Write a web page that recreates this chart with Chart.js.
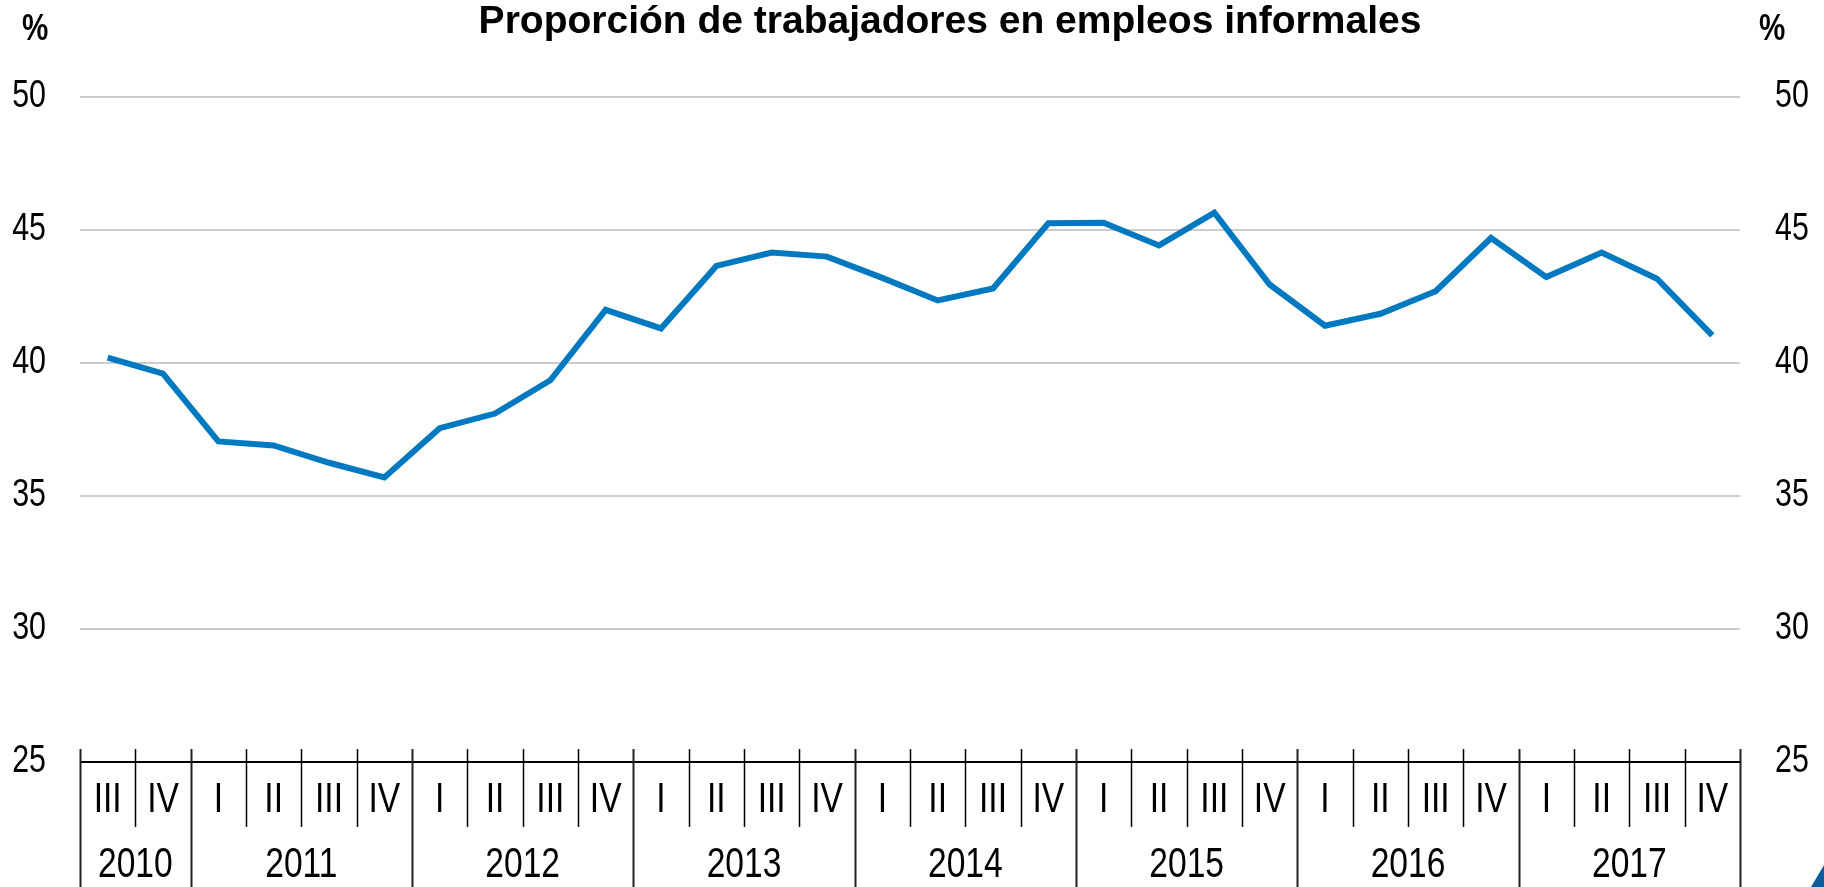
<!DOCTYPE html>
<html>
<head>
<meta charset="utf-8">
<script src="https://cdn.jsdelivr.net/npm/chart.js@4"></script>
<style>
  html, body { margin: 0; padding: 0; background: #fff; }
  #wrap { width: 1824px; height: 887px; position: relative; }
</style>
</head>
<body>
<div id="wrap"><canvas id="main_plot"></canvas></div>
<script>
// quarters from 2010 III to 2017 IV
const quarterLabels = ['III','IV',
  'I','II','III','IV', 'I','II','III','IV', 'I','II','III','IV',
  'I','II','III','IV', 'I','II','III','IV', 'I','II','III','IV',
  'I','II','III','IV'];
const yearLabels = ['2010','2011','2012','2013','2014','2015','2016','2017'];
const quartersPerYear = [2,4,4,4,4,4,4,4];
const informalShare = [40.2, 39.6,
  37.05, 36.9, 36.25, 35.7,
  37.55, 38.1, 39.35, 42.0,
  41.3, 43.65, 44.15, 44.0,
  43.2, 42.35, 42.8, 45.25,
  45.27, 44.42, 45.65, 42.95,
  41.4, 41.85, 42.7, 44.7,
  43.23, 44.15, 43.17, 41.04];
const yMin = 25, yMax = 50, yStep = 5;

const FONT = '"Liberation Sans", Arial, sans-serif';
const NARROW = 0.8; // the original uses a condensed face

// draws text squeezed horizontally, like Arial Narrow
function narrowText(ctx, text, x, y, align) {
    ctx.save();
    ctx.translate(x, y);
    ctx.scale(NARROW, 1);
    ctx.textAlign = align;
    ctx.fillText(text, 0, 0);
    ctx.restore();
}

const customAxis = {
    id: 'customAxis',
    afterDraw(chart) {
        const ctx = chart.ctx;
        const xs = chart.scales.x;
        const area = chart.chartArea;
        const bottom = area.bottom;
        const step = xs.getPixelForValue(1) - xs.getPixelForValue(0);
        const edge = k => xs.getPixelForValue(k) - step / 2;
        ctx.save();

        // title and unit labels
        ctx.fillStyle = '#000';
        ctx.textBaseline = 'alphabetic';
        ctx.font = 'bold 39px ' + FONT;
        ctx.textAlign = 'center';
        ctx.fillText('Proporción de trabajadores en empleos informales', 950, 33);
        ctx.font = 'bold 37px ' + FONT;
        narrowText(ctx, '%', 22, 40, 'left');
        narrowText(ctx, '%', 1759, 40, 'left');

        // y tick labels on both sides
        ctx.font = '38px ' + FONT;
        ctx.textBaseline = 'middle';
        chart.scales.y.ticks.forEach(t => {
            const py = chart.scales.y.getPixelForValue(t.value);
            narrowText(ctx, String(t.value), 46, py, 'right');
            narrowText(ctx, String(t.value), 1775, py, 'left');
        });

        // horizontal axis line
        ctx.strokeStyle = '#000';
        ctx.lineWidth = 2;
        ctx.beginPath();
        ctx.moveTo(edge(0), bottom);
        ctx.lineTo(edge(quarterLabels.length), bottom);
        ctx.stroke();

        // year boundaries
        let starts = [0];
        quartersPerYear.forEach(n => starts.push(starts[starts.length - 1] + n));

        // quarter separators
        for (let k = 0; k <= quarterLabels.length; k++) {
            const x = Math.round(edge(k)) + 0.5;
            const isYear = starts.includes(k);
            ctx.lineWidth = isYear ? 2 : 1.5;
            ctx.strokeStyle = isYear ? '#222' : '#000';
            ctx.beginPath();
            ctx.moveTo(x, bottom - 13);
            ctx.lineTo(x, isYear ? chart.height : bottom + 65);
            ctx.stroke();
        }

        // quarter labels
        ctx.fillStyle = '#000';
        ctx.font = '42px ' + FONT;
        ctx.textBaseline = 'middle';
        quarterLabels.forEach((q, i) => {
            narrowText(ctx, q, xs.getPixelForValue(i), bottom + 38, 'center');
        });

        // year labels
        yearLabels.forEach((y, j) => {
            const x = (edge(starts[j]) + edge(starts[j + 1])) / 2;
            narrowText(ctx, y, x, bottom + 103, 'center');
        });

        // logo corner
        ctx.fillStyle = '#0d5d9e';
        ctx.beginPath();
        ctx.moveTo(1811, 887);
        ctx.lineTo(1824, 865);
        ctx.lineTo(1824, 887);
        ctx.closePath();
        ctx.fill();
        ctx.restore();
    }
};

const yCommon = {
    min: yMin,
    max: yMax,
    ticks: { stepSize: yStep, display: false },
    border: { display: false }
};

new Chart(document.getElementById('main_plot').getContext('2d'), {
    type: 'line',
    data: {
        labels: quarterLabels,
        datasets: [{
            label: 'Proporción',
            data: informalShare,
            borderColor: '#0079c1',
            borderWidth: 6,
            borderJoinStyle: 'miter',
            pointRadius: 0,
            tension: 0,
            fill: false,
            yAxisID: 'y'
        }]
    },
    options: {
        responsive: true,
        maintainAspectRatio: false,
        animation: false,
        layout: { padding: { top: 97, bottom: 0, left: 0, right: 0 } },
        plugins: {
            legend: { display: false },
            title: { display: false },
            tooltip: { enabled: false }
        },
        scales: {
            x: {
                type: 'category',
                offset: true,
                grid: { display: false },
                border: { display: false },
                ticks: { display: false },
                afterFit: s => { s.height = 125; }
            },
            y: Object.assign({}, yCommon, {
                position: 'left',
                grid: { color: '#cccccc', lineWidth: 2, drawTicks: false },
                afterFit: s => { s.width = 80; }
            }),
            y2: Object.assign({}, yCommon, {
                position: 'right',
                grid: { display: false, drawTicks: false },
                afterFit: s => { s.width = 84; }
            })
        }
    },
    plugins: [customAxis]
});
</script>
</body>
</html>
